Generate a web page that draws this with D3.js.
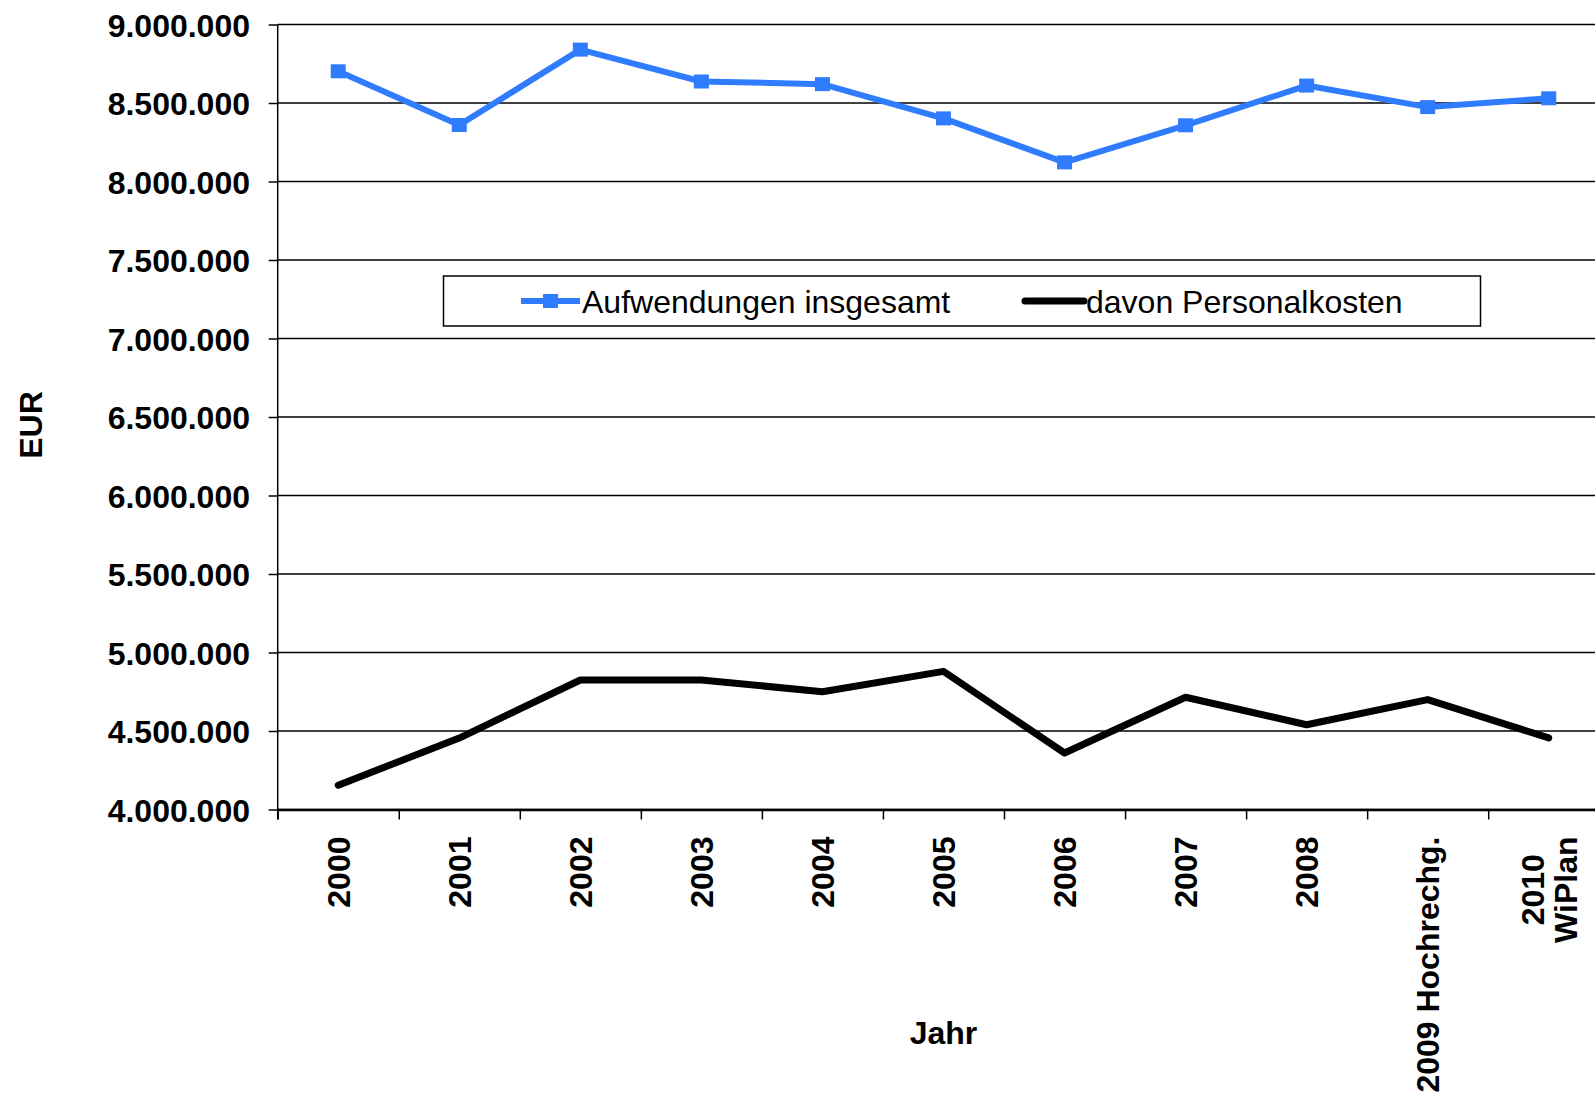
<!DOCTYPE html>
<html>
<head>
<meta charset="utf-8">
<script src="https://cdn.jsdelivr.net/npm/d3@7"></script>
<style>
    body { margin: 0; background: #fff; overflow: hidden; }
    svg { display: block; font-family: "Liberation Sans", Arial, sans-serif; }
</style>
</head>
<body>
<div id="chart"></div>
<script>
// Categories on the x axis and their (multi-line) labels
const years = ['2000', '2001', '2002', '2003', '2004', '2005', '2006', '2007', '2008', '2009', '2010'];
const yearLabels = [['2000'], ['2001'], ['2002'], ['2003'], ['2004'], ['2005'], ['2006'], ['2007'], ['2008'],
    ['2009 Hochrechg.'], ['2010', 'WiPlan']];

// Series values in EUR
const totalCosts = [8702000, 8360000, 8840000, 8637000, 8620000, 8402000, 8122000, 8358000, 8611000, 8474000, 8530000];
const staffCosts = [4155000, 4455000, 4825000, 4825000, 4750000, 4880000, 4360000, 4715000, 4540000, 4700000, 4456000];

// Y axis ticks
const yTicks = [4000000, 4500000, 5000000, 5500000, 6000000, 6500000, 7000000, 7500000, 8000000, 8500000, 9000000];

const seriesNames = ['Aufwendungen insgesamt', 'davon Personalkosten'];
const seriesColors = ['#307cff', '#000000'];

class LineChart {
    constructor(_config) {
        this.config = _config;
        this.initVis();
    }

    initVis() {
        let vis = this;

        vis.margin = {top: 24.5, left: 277.7};
        vis.width = 11 * 121.05;      // plot runs past the right edge of the picture
        vis.height = 785;

        vis.svg = d3.select(vis.config.parentElement)
            .append('svg')
                .attr('width', vis.config.width)
                .attr('height', vis.config.height);

        vis.chart = vis.svg.append('g')
            .attr('transform', `translate(${vis.margin.left},${vis.margin.top})`);

        vis.xScale = d3.scaleBand()
            .domain(years)
            .range([0, vis.width])
            .padding(0);

        // Category boundaries for the tick marks
        vis.boundaryScale = d3.scaleLinear()
            .domain([0, years.length])
            .range([0, vis.width]);

        vis.yScale = d3.scaleLinear()
            .domain([4000000, 9000000])
            .range([vis.height, 0]);

        const de = d3.formatLocale({decimal: ',', thousands: '.', grouping: [3], currency: ['', ' €']});
        vis.fmt = de.format(',d');

        vis.renderVis();
    }

    renderVis() {
        let vis = this;

        // Gridlines
        vis.chart.append('g')
            .selectAll('line')
            .data(yTicks)
            .join('line')
                .attr('x1', 0)
                .attr('x2', vis.width)
                .attr('y1', d => vis.yScale(d))
                .attr('y2', d => vis.yScale(d))
                .attr('stroke', '#000')
                .attr('stroke-width', 1.5);

        // Y axis
        const yAxis = d3.axisLeft(vis.yScale)
            .tickValues(yTicks)
            .tickFormat(vis.fmt)
            .tickSize(9)
            .tickSizeOuter(0)
            .tickPadding(18.7);

        const yAxisGroup = vis.chart.append('g').call(yAxis);
        yAxisGroup.select('.domain').remove();
        yAxisGroup.selectAll('.tick line').attr('stroke', '#000').attr('stroke-width', 1.5);
        yAxisGroup.selectAll('.tick text')
            .attr('dy', '0.36em')
            .style('font-size', '32px')
            .style('font-weight', 'bold')
            .attr('fill', '#000');

        vis.chart.append('line')
            .attr('x1', 0).attr('x2', 0)
            .attr('y1', 0).attr('y2', vis.height + 10)
            .attr('stroke', '#000')
            .attr('stroke-width', 1.5);

        // X axis with ticks between categories
        const xAxis = d3.axisBottom(vis.boundaryScale)
            .tickValues(d3.range(0, years.length + 1))
            .tickFormat('')
            .tickSize(10)
            .tickSizeOuter(0);

        const xAxisGroup = vis.chart.append('g')
            .attr('transform', `translate(0,${vis.height})`)
            .call(xAxis);
        xAxisGroup.select('.domain').attr('stroke', '#000').attr('stroke-width', 2.5);
        xAxisGroup.selectAll('.tick line').attr('stroke', '#000').attr('stroke-width', 1.5);

        // Rotated category labels
        const labelTop = vis.height + 27;
        const labels = vis.chart.append('g')
            .selectAll('g')
            .data(years)
            .join('g')
                .attr('transform', d => `translate(${vis.xScale(d) + vis.xScale.bandwidth() / 2},${labelTop}) rotate(-90)`);

        labels.each(function(d, i) {
            const lines = yearLabels[i];
            const g = d3.select(this);
            const texts = g.selectAll('text')
                .data(lines)
                .join('text')
                    .attr('text-anchor', 'middle')
                    .attr('dy', (l, j) => `${0.36 + (j - (lines.length - 1) / 2) * 1.03}em`)
                    .style('font-size', '32px')
                    .style('font-weight', 'bold')
                    .attr('fill', '#000')
                    .text(l => l);
            const maxLen = d3.max(texts.nodes(), n => n.getComputedTextLength());
            texts.attr('x', -maxLen / 2);
        });

        // Axis titles
        vis.svg.append('text')
            .attr('transform', 'translate(30.5,425) rotate(-90)')
            .attr('text-anchor', 'middle')
            .attr('dy', '0.36em')
            .style('font-size', '32px')
            .style('font-weight', 'bold')
            .text('EUR');

        vis.svg.append('text')
            .attr('x', vis.margin.left + vis.width / 2)
            .attr('y', 1044)
            .attr('text-anchor', 'middle')
            .style('font-size', '32px')
            .style('font-weight', 'bold')
            .text('Jahr');

        // Lines
        const line = d3.line()
            .x((d, i) => vis.xScale(years[i]) + vis.xScale.bandwidth() / 2)
            .y(d => vis.yScale(d));

        vis.chart.append('path')
            .datum(staffCosts)
            .attr('d', line)
            .attr('fill', 'none')
            .attr('stroke', seriesColors[1])
            .attr('stroke-width', 7)
            .attr('stroke-linejoin', 'round')
            .attr('stroke-linecap', 'round');

        vis.chart.append('path')
            .datum(totalCosts)
            .attr('d', line)
            .attr('fill', 'none')
            .attr('stroke', seriesColors[0])
            .attr('stroke-width', 6)
            .attr('stroke-linejoin', 'round');

        vis.chart.append('g')
            .selectAll('rect')
            .data(totalCosts)
            .join('rect')
                .attr('x', (d, i) => vis.xScale(years[i]) + vis.xScale.bandwidth() / 2 - 7.5)
                .attr('y', d => vis.yScale(d) - 7)
                .attr('width', 15)
                .attr('height', 14)
                .attr('fill', seriesColors[0]);

        // Legend
        const legend = vis.svg.append('g');
        legend.append('rect')
            .attr('x', 443.5)
            .attr('y', 276)
            .attr('width', 1037)
            .attr('height', 50)
            .attr('fill', '#fff')
            .attr('stroke', '#000')
            .attr('stroke-width', 1.5);

        const legendX = [521, 1025];
        seriesNames.forEach((name, i) => {
            legend.append('line')
                .attr('x1', legendX[i]).attr('x2', legendX[i] + 59)
                .attr('y1', 301).attr('y2', 301)
                .attr('stroke', seriesColors[i])
                .attr('stroke-width', i === 0 ? 6 : 7)
                .attr('stroke-linecap', i === 0 ? 'butt' : 'round');
            if (i === 0) {
                legend.append('rect')
                    .attr('x', legendX[i] + 29.5 - 7.5)
                    .attr('y', 301 - 7)
                    .attr('width', 15)
                    .attr('height', 14)
                    .attr('fill', seriesColors[i]);
            }
            legend.append('text')
                .attr('x', legendX[i] + 61)
                .attr('y', 313)
                .style('font-size', '32px')
                .attr('fill', '#000')
                .text(name);
        });
    }
}

new LineChart({parentElement: '#chart', width: 1595, height: 1095});
</script>
</body>
</html>
